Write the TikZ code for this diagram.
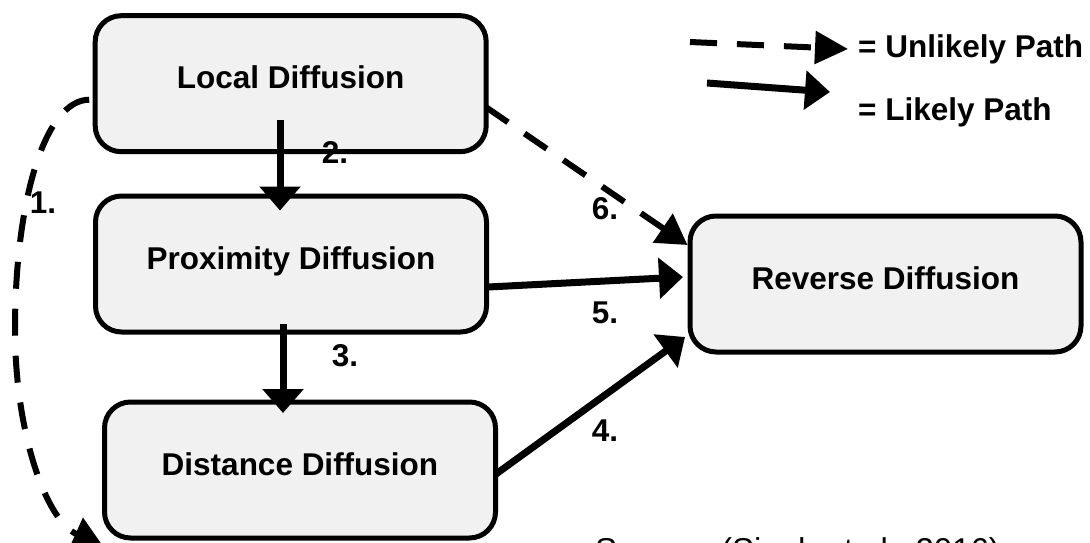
\documentclass[tikz,border=0pt]{standalone}
\usepackage{fontspec}
\setmainfont{Liberation Sans}
\usetikzlibrary{arrows.meta,calc}
\definecolor{boxfill}{HTML}{F1F1F1}
\begin{document}
\begin{tikzpicture}[x=1pt,y=-1pt,
  stage/.style={draw=black, line width=5pt, fill=boxfill, rounded corners=26pt,
    minimum width=391pt, minimum height=136pt, inner sep=0pt,
    font=\bfseries\fontsize{31.5}{38}\selectfont, text height=23pt, text depth=13pt},
  likely/.style={line width=7pt, -{Triangle[length=24pt,width=40pt]}},
  unlikely/.style={line width=6pt, dash pattern=on 27pt off 20pt,
    -{Triangle[length=30pt,width=34pt]}},
  num/.style={font=\bfseries\fontsize{31.5}{38}\selectfont, inner sep=0pt},
  legendtext/.style={font=\bfseries\fontsize{31.5}{38}\selectfont, inner sep=0pt, anchor=base west},
]
\useasboundingbox (0,0) rectangle (1090,542);

% stages
\node[stage] (local) at (290.7,83.7) {Local Diffusion};
\node[stage] (prox)  at (291,264)    {Proximity Diffusion};
\node[stage] (dist)  at (300,470)    {Distance Diffusion};
\node[stage] (rev)   at (885.5,284)  {Reverse Diffusion};

% likely paths
\draw[likely] ([xshift=-10.7pt,yshift=34pt]local.south) -- ([xshift=-11pt,yshift=-17pt]prox.north);
\draw[likely] ([xshift=-8pt,yshift=10.5pt]prox.south) -- ([xshift=-17pt,yshift=-13.5pt]dist.north);
\draw[likely] ([xshift=-1pt,yshift=-23pt]prox.east) -- ([xshift=-4.5pt,yshift=7pt]rev.west);
\draw[likely] ([xshift=-2pt,yshift=-4pt]dist.east) -- ([xshift=-2.5pt,yshift=-53pt]rev.west);

% unlikely paths
\draw[unlikely] ([xshift=-3pt,yshift=-23.3pt]local.east) -- ([yshift=39pt]rev.west);
\coordinate (distlow) at (103,546);
\draw[unlikely] ([xshift=-3.5pt,yshift=-16pt]local.west)
  .. controls (45,100) and (15,200) .. (15,330)
  .. controls (15,430) and (45,520) .. (distlow);

% path numbers
\node[num] (n1) at (43,203) {1.};
\node[num] (n2) at (335,152) {2.};
\node[num] (n3) at (345,356) {3.};
\node[num] (n4) at (605,431) {4.};
\node[num] (n5) at (605,313) {5.};
\node[num] (n6) at (605,209) {6.};

% legend
\coordinate (ua) at (690,42);
\coordinate (ub) at (848,49);
\draw[line width=6pt, dash pattern=on 27pt off 20pt, -{Triangle[length=33pt,width=32pt]}] (ua) -- (ub);
\node[legendtext] (ulab) at (858,57) {= Unlikely Path};
\coordinate (la) at (707,83);
\coordinate (lb) at (830,92);
\draw[likely, -{Triangle[length=25pt,width=38pt]}] (la) -- (lb);
\node[legendtext] (llab) at (858,120) {= Likely Path};

% source line
\node[anchor=base west, inner sep=0pt, font=\fontsize{33}{40}\selectfont] (src) at (595,561) {Source: (Singh et al., 2016)};
\end{tikzpicture}
\end{document}
